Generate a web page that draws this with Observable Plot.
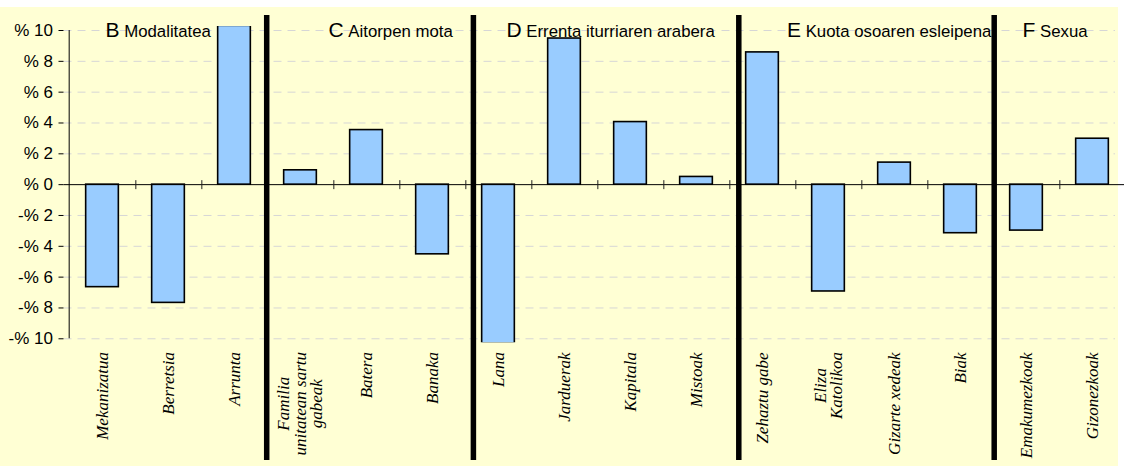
<!DOCTYPE html>
<html><head><meta charset="utf-8">
<script src="https://cdn.jsdelivr.net/npm/d3@7"></script>
<script src="https://cdn.jsdelivr.net/npm/@observablehq/plot@0.6"></script>
<style>
html,body{margin:0;padding:0;background:#fff;overflow:hidden;width:1124px;height:466px;}
#bg{position:absolute;left:0;top:7px;width:1118px;height:459px;background:#FFFFD4;}
#chart{position:absolute;left:0;top:0;width:1130px;height:466px;}
#chart svg{max-width:none !important;}
</style></head><body><div id="bg"></div><div id="chart"></div>
<script>
// ---- data ----
const categories = ["Mekanizatua","Berretsia","Arrunta",
  "Familia\nunitatean sartu\ngabeak","Batera","Banaka",
  "Lana","Jarduerak","Kapitala","Mistoak",
  "Zehaztu gabe","Eliza\nKatolikoa","Gizarte xedeak","Biak",
  "Emakumezkoak","Gizonezkoak"];
const values = [-6.65,-7.67,10.3, 0.93,3.54,-4.52, -10.3,9.48,4.06,0.5, 8.58,-6.93,1.43,-3.15, -2.98,2.98];
const groupLetters = ["B","C","D","E","F"];
const groupNames = ["Modalitatea","Aitorpen mota","Errenta iturriaren arabera","Kuota osoaren esleipena","Sexua"];
const groupSizes = [3,3,4,4,2];
const yTicks = [-10,-8,-6,-4,-2,0,2,4,6,8,10];

// ---- derived ----
const data = categories.map((c,i)=>({cat:c, value:values[i]}));
const firstIdx = []; const lastIdx = [];
{ let s=0; groupSizes.forEach(n=>{ firstIdx.push(s); lastIdx.push(s+n-1); s+=n; }); }

const W = 1130, H = 466, mL = 63.5, mR = 0, mT = 26, mB = 123.7;
const bw = (W - mL - mR) / categories.length;

// style offsets (pixels)
const titleDx = [3, 28, 8, 24.5, -4];
const sepDx = [32.2, 40.9, 42.3, 33.7];

const marks = [];
marks.push(Plot.ruleY(yTicks.filter(d=>d!==0), {stroke:"#d6d6d6", strokeDasharray:"8,6", insetRight:15}));
marks.push(Plot.barY(data, {x:"cat", y:"value", fill:"#99CCFF", stroke:"#000", strokeWidth:1.6, insetLeft:bw/4, insetRight:bw/4, clip:true}));
marks.push(Plot.ruleY([0], {stroke:"#000", strokeWidth:1}));
marks.push(Plot.ruleX(categories, {x:d=>d, y1:0, y2:0, dx:bw/2, insetTop:-4, insetBottom:-5, stroke:"#222", strokeWidth:1}));
marks.push(Plot.ruleX([categories[0]], {x:d=>d, y1:-10, y2:10, dx:-bw/2, stroke:"#000", strokeWidth:1}));
marks.push(Plot.axisY({ticks:yTicks, tickFormat:d=>(d<0?"-% ":"% ")+Math.abs(d), tickSize:5, tickPadding:6, fontSize:17, label:null, stroke:"#000"}));
lastIdx.slice(0,-1).forEach((li,k)=>{
  marks.push(Plot.ruleX([categories[li]], {x:d=>d, dx:sepDx[k], stroke:"#000", strokeWidth:5.5, insetTop:-11, insetBottom:-117.7}));
});
groupLetters.forEach((g,i)=>{
  marks.push(Plot.text([categories[firstIdx[i]]], {x:d=>d, text:d=>g+" "+groupNames[i], frameAnchor:"top", lineAnchor:"bottom", dy:10, dx:titleDx[i], textAnchor:"start", fontSize:16.8, fill:"#000"}));
});
marks.push(Plot.text(categories, {x:d=>d, text:d=>d, frameAnchor:"bottom", rotate:-90, textAnchor:"middle", lineAnchor:"middle", lineHeight:0.97, fontFamily:"'Liberation Serif','Times New Roman',serif", fontStyle:"italic", fontSize:17, fill:"#000"}));

const plot = Plot.plot({
  width: W, height: H,
  marginLeft: mL, marginRight: mR, marginTop: mT, marginBottom: mB,
  style: {fontFamily:"'Liberation Sans', Arial, sans-serif", fontSize:"16px", background:"transparent", color:"#000", overflow:"visible", maxWidth:"none"},
  x: {domain: categories, padding: 0, axis: null},
  y: {domain: [-10.26, 10.26], axis: null},
  marks
});
document.getElementById("chart").appendChild(plot);

const ns = "http://www.w3.org/2000/svg";
const textGroups = plot.querySelectorAll(':scope > g[aria-label="text"]');
for (let i = 0; i < groupLetters.length; i++) {
  const t = textGroups[i] && textGroups[i].querySelector("text");
  if (!t) continue;
  t.textContent = "";
  const a = document.createElementNS(ns,"tspan"); a.setAttribute("font-size","21"); a.textContent = groupLetters[i];
  const b = document.createElementNS(ns,"tspan"); b.textContent = "\u00A0" + groupNames[i];
  t.append(a,b);
}
const labelTop = 352;
const lab = textGroups[textGroups.length-1];
if (lab) lab.querySelectorAll("text").forEach(t=>{
  const r = t.getBoundingClientRect();
  const delta = labelTop - r.top;
  const old = t.getAttribute("transform") || "";
  t.setAttribute("transform", `translate(0,${delta}) ` + old);
});
</script>
</body></html>
